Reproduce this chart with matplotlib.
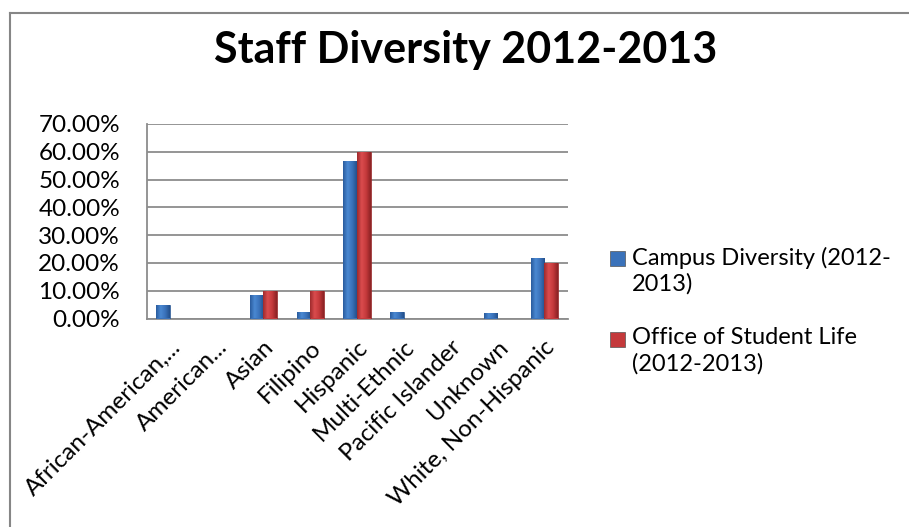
import numpy as np
import matplotlib.pyplot as plt
from matplotlib.patches import Rectangle
from matplotlib.lines import Line2D
from matplotlib.colors import LinearSegmentedColormap
from matplotlib.ticker import PercentFormatter

# --- Data ---
categories = ['African-American,...', 'American...', 'Asian', 'Filipino', 'Hispanic',
              'Multi-Ethnic', 'Pacific Islander', 'Unknown', 'White, Non-Hispanic']
campus = [5.0, 0.0, 8.4, 2.4, 56.8, 2.4, 0.0, 1.8, 21.7]
student_life = [0.0, 0.0, 10.0, 10.0, 60.0, 0.0, 0.0, 0.0, 20.0]
series_labels = ['Campus Diversity (2012-\n2013)', 'Office of Student Life\n(2012-2013)']
title = 'Staff Diversity 2012-2013'

plt.rcParams['font.family'] = ['Lato', 'DejaVu Sans']

W, H = 909, 527
fig = plt.figure(figsize=(W / 100, H / 100), dpi=100)
ax = fig.add_axes([146.5 / W, 1 - 318.5 / H, (567.5 - 146.5) / W, (318.5 - 124) / H])

x = np.arange(len(categories))
w = 0.29
blue = '#3A72BA'
red = '#C4393B'
bars1 = ax.bar(x - w / 2, campus, w, color=blue, edgecolor='#2A568F', linewidth=0.5, zorder=3)
bars2 = ax.bar(x + w / 2, student_life, w, color=red, edgecolor='#8E2426', linewidth=0.5, zorder=3)

# soft cylinder-like shading on each bar, clipped to the bar itself
shade = {
    'b': LinearSegmentedColormap.from_list('b', ['#2A5C9E', '#4A88D2', '#3A72BA', '#24518C']),
    'r': LinearSegmentedColormap.from_list('r', ['#9E2A2C', '#DA4C4E', '#C4393B', '#8A2224']),
}
grad = np.linspace(0, 1, 64).reshape(1, -1)
for bars, key in [(bars1, 'b'), (bars2, 'r')]:
    for p in bars:
        if p.get_height() <= 0:
            continue
        x0, y0 = p.get_x(), p.get_y()
        im = ax.imshow(grad, cmap=shade[key], aspect='auto', zorder=3.5,
                       extent=(x0, x0 + p.get_width(), y0, y0 + p.get_height()))
        im.set_clip_path(p)

ax.set_ylim(0, 70)
ax.set_xlim(-0.5, len(categories) - 0.5)
ax.set_yticks(np.arange(0, 71, 10))
ax.yaxis.set_major_formatter(PercentFormatter(decimals=2))
ax.tick_params(axis='y', labelsize=17.5, length=0, pad=19)
ax.tick_params(axis='x', length=0, pad=13)
ax.set_xticks(x)
ax.set_xticklabels(categories, rotation=45, ha='right', rotation_mode='anchor', fontsize=17.5)
ax.grid(axis='y', color='#8C8C8C', linewidth=1.3, zorder=0)
for s in ['top', 'right']:
    ax.spines[s].set_visible(False)
for s in ['left', 'bottom']:
    ax.spines[s].set_color('#8C8C8C')
    ax.spines[s].set_linewidth(1.3)

fig.text(0.5 * (217 + 715) / W, 1 - 63 / H, title, ha='center', va='baseline',
         fontsize=31, fontweight='bold')

# legend drawn by hand: square marker beside the first line of each label
for i, (lab, col) in enumerate(zip(series_labels, [blue, red])):
    top = 250.5 + i * 81
    fig.patches.append(Rectangle((610 / W, 1 - (top + 15) / H), 15 / W, 15 / H,
                                 transform=fig.transFigure, facecolor=col,
                                 edgecolor='#555555', linewidth=0.5))
    fig.text(632 / W, 1 - (top - 4) / H, lab, ha='left', va='top', fontsize=17,
             linespacing=1.28)

# chart border (only top and left edges fall inside the picture)
fig.add_artist(Line2D([9.5 / W, 9.5 / W], [0, 1 - 12.5 / H], transform=fig.transFigure,
                      color='#868686', linewidth=1.5))
fig.add_artist(Line2D([9.5 / W, 1], [1 - 12.5 / H, 1 - 12.5 / H], transform=fig.transFigure,
                      color='#868686', linewidth=1.5))

fig.savefig('out.png', dpi=100)
